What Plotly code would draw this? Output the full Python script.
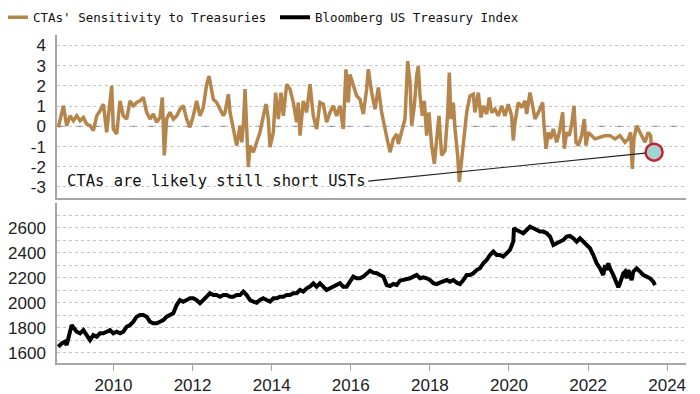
import pandas as pd
import plotly.graph_objects as go
from plotly.subplots import make_subplots

# ---- data (decimal years) ----
cta_t = [2008.605, 2008.732, 2008.816, 2008.900, 2008.985, 2009.069, 2009.153, 2009.237, 2009.322, 2009.406,
         2009.490, 2009.575, 2009.659, 2009.743, 2009.827, 2009.912, 2009.954, 2009.996, 2010.080, 2010.164,
         2010.249, 2010.333, 2010.417, 2010.502, 2010.586, 2010.670, 2010.754, 2010.839, 2010.923, 2011.007,
         2011.091, 2011.176, 2011.235, 2011.285, 2011.344, 2011.429, 2011.513, 2011.597, 2011.681, 2011.766,
         2011.850, 2011.934, 2012.019, 2012.103, 2012.187, 2012.271, 2012.356, 2012.415, 2012.482, 2012.524,
         2012.609, 2012.693, 2012.777, 2012.819, 2012.904, 2012.946, 2012.988, 2013.030, 2013.114, 2013.199,
         2013.241, 2013.283, 2013.325, 2013.367, 2013.409, 2013.451, 2013.536, 2013.620, 2013.704, 2013.789,
         2013.856, 2013.915, 2013.957, 2014.041, 2014.100, 2014.168, 2014.235, 2014.294, 2014.378, 2014.463,
         2014.547, 2014.631, 2014.673, 2014.716, 2014.800, 2014.884, 2014.968, 2015.053, 2015.137, 2015.221,
         2015.306, 2015.390, 2015.474, 2015.558, 2015.643, 2015.727, 2015.811, 2015.879, 2015.938, 2015.980,
         2016.064, 2016.148, 2016.233, 2016.317, 2016.401, 2016.443, 2016.528, 2016.612, 2016.696, 2016.780,
         2016.865, 2016.949, 2016.991, 2017.075, 2017.160, 2017.202, 2017.286, 2017.370, 2017.438, 2017.497,
         2017.539, 2017.606, 2017.665, 2017.707, 2017.750, 2017.809, 2017.859, 2017.918, 2017.977, 2018.045,
         2018.112, 2018.171, 2018.230, 2018.297, 2018.382, 2018.449, 2018.491, 2018.533, 2018.592, 2018.635,
         2018.702, 2018.744, 2018.803, 2018.862, 2018.930, 2019.014, 2019.098, 2019.140, 2019.225, 2019.292,
         2019.351, 2019.435, 2019.503, 2019.562, 2019.646, 2019.730, 2019.815, 2019.899, 2019.983, 2020.067,
         2020.110, 2020.152, 2020.236, 2020.320, 2020.404, 2020.447, 2020.531, 2020.598, 2020.657, 2020.742,
         2020.851, 2020.885, 2020.935, 2020.994, 2021.053, 2021.121, 2021.205, 2021.272, 2021.357, 2021.399,
         2021.458, 2021.525, 2021.584, 2021.643, 2021.694, 2021.753, 2021.837, 2021.905, 2021.947, 2022.006,
         2022.090, 2022.174, 2022.301, 2022.427, 2022.554, 2022.680, 2022.806, 2022.933, 2023.017, 2023.076,
         2023.118, 2023.160, 2023.228, 2023.312, 2023.380, 2023.439, 2023.523, 2023.582, 2023.607, 2023.670]
cta_v = [-0.05, 1.02, 0.03, 0.52, 0.28, 0.52, 0.28, 0.44, 0.11, 0.03,
         -0.21, 0.52, 0.77, 1.10, -0.30, 1.18, 2.00, -0.13, -0.38, 1.26,
         0.52, 0.36, 1.26, 1.02, 1.18, 1.26, 1.43, 0.69, 0.36, 0.61,
         0.20, 0.44, 1.43, -1.44, 0.36, 0.69, 0.36, 0.52, 0.85, 1.02,
         0.36, -0.05, 0.52, 1.26, 0.52, 0.93, 2.08, 2.49, 1.67, 1.34,
         1.18, 0.85, 0.52, 0.69, 1.59, 0.69, 0.36, -0.13, -0.95, 0.03,
         -0.79, 0.11, 1.84, -0.46, -2.02, -0.95, -1.28, -0.79, -0.30, 0.52,
         1.10, 0.36, -1.03, -0.30, 1.67, 0.36, 1.67, 0.52, 2.08, 1.84,
         1.18, 0.20, 1.18, -0.46, 1.26, 0.69, 2.08, 0.52, -0.13, 1.18,
         1.10, 0.20, 0.69, 1.02, 0.52, 1.02, -0.13, 2.82, 1.18, 2.57,
         2.00, 1.51, 1.34, 0.61, 1.84, 2.82, 1.67, 0.85, 1.92, 0.69,
         -0.13, -0.95, -1.28, -0.62, -0.38, -0.87, -0.30, 0.36, 3.23, 2.16,
         0.03, 1.02, 2.49, 2.98, 1.51, 0.52, 1.26, -0.46, 0.69, -0.95,
         -1.85, -0.62, 0.52, -1.44, -1.20, 0.61, 2.66, 0.36, 1.18, -0.13,
         -1.44, -2.75, -1.77, -0.46, 0.69, 1.51, 1.59, 0.69, 1.67, 0.44,
         1.02, 0.61, 1.43, 0.69, 0.85, 0.52, 1.02, 0.52, 1.10, 0.52,
         -0.70, 0.20, 1.18, 0.93, 1.26, 0.61, 1.67, 1.02, 0.36, 0.69,
         1.18, 0.03, -1.11, -0.30, -0.62, -0.13, -0.79, -0.30, 0.69, -1.11,
         -0.30, -0.46, 0.11, 1.02, -0.79, -0.95, -0.46, 0.36, -0.95, -0.30,
         -0.46, -0.62, -0.54, -0.46, -0.46, -0.62, -0.46, -0.79, -0.62, -0.30,
         -2.10, -0.62, 0.03, -0.30, -0.62, -0.79, -0.30, -0.46, -1.11, -1.28]

idx_t = [2008.605, 2008.689, 2008.773, 2008.815, 2008.858, 2008.942, 2009.001, 2009.068, 2009.153, 2009.237,
         2009.321, 2009.405, 2009.490, 2009.574, 2009.658, 2009.742, 2009.827, 2009.911, 2009.995, 2010.080,
         2010.164, 2010.248, 2010.332, 2010.417, 2010.501, 2010.585, 2010.670, 2010.754, 2010.838, 2010.922,
         2011.007, 2011.091, 2011.175, 2011.260, 2011.344, 2011.428, 2011.512, 2011.597, 2011.681, 2011.765,
         2011.849, 2011.934, 2012.018, 2012.102, 2012.187, 2012.271, 2012.355, 2012.439, 2012.524, 2012.608,
         2012.692, 2012.777, 2012.861, 2012.945, 2013.029, 2013.114, 2013.198, 2013.282, 2013.367, 2013.451,
         2013.535, 2013.619, 2013.704, 2013.788, 2013.872, 2013.957, 2014.041, 2014.125, 2014.209, 2014.294,
         2014.378, 2014.462, 2014.547, 2014.631, 2014.715, 2014.799, 2014.884, 2014.968, 2015.052, 2015.137,
         2015.221, 2015.305, 2015.389, 2015.474, 2015.558, 2015.642, 2015.727, 2015.811, 2015.895, 2015.979,
         2016.064, 2016.148, 2016.232, 2016.317, 2016.401, 2016.486, 2016.570, 2016.654, 2016.739, 2016.823,
         2016.907, 2016.991, 2017.076, 2017.160, 2017.244, 2017.328, 2017.413, 2017.497, 2017.581, 2017.666,
         2017.750, 2017.834, 2017.918, 2018.003, 2018.087, 2018.171, 2018.256, 2018.340, 2018.424, 2018.508,
         2018.593, 2018.677, 2018.761, 2018.846, 2018.930, 2019.014, 2019.098, 2019.183, 2019.267, 2019.351,
         2019.436, 2019.520, 2019.604, 2019.688, 2019.773, 2019.857, 2019.941, 2020.025, 2020.110, 2020.127,
         2020.194, 2020.278, 2020.363, 2020.447, 2020.531, 2020.615, 2020.700, 2020.784, 2020.868, 2020.953,
         2021.037, 2021.121, 2021.205, 2021.290, 2021.374, 2021.458, 2021.543, 2021.627, 2021.711, 2021.795,
         2021.880, 2021.964, 2022.048, 2022.133, 2022.217, 2022.301, 2022.385, 2022.428, 2022.470, 2022.512,
         2022.554, 2022.638, 2022.723, 2022.765, 2022.807, 2022.849, 2022.891, 2022.933, 2022.976, 2023.018,
         2023.060, 2023.102, 2023.144, 2023.228, 2023.313, 2023.397, 2023.481, 2023.566, 2023.650, 2023.692]
idx_v = [1648, 1675, 1688, 1661, 1715, 1821, 1795, 1768, 1755, 1781,
         1741, 1701, 1741, 1728, 1755, 1755, 1768, 1781, 1755, 1768,
         1755, 1768, 1808, 1821, 1848, 1888, 1901, 1901, 1888, 1848,
         1835, 1835, 1848, 1861, 1888, 1901, 1915, 1981, 2021, 2008,
         2021, 2035, 2035, 2021, 1995, 2021, 2048, 2075, 2061, 2061,
         2048, 2061, 2061, 2048, 2048, 2061, 2061, 2088, 2061, 2021,
         2008, 2000, 2021, 2035, 2021, 2008, 2035, 2035, 2048, 2048,
         2061, 2061, 2075, 2075, 2101, 2088, 2115, 2128, 2155, 2128,
         2155, 2128, 2101, 2115, 2128, 2141, 2155, 2128, 2128, 2168,
         2208, 2195, 2195, 2208, 2235, 2256, 2240, 2235, 2221, 2208,
         2141, 2133, 2149, 2141, 2176, 2181, 2187, 2195, 2208, 2221,
         2195, 2203, 2195, 2181, 2155, 2149, 2160, 2168, 2181, 2168,
         2181, 2160, 2149, 2181, 2221, 2221, 2235, 2261, 2275, 2315,
         2341, 2381, 2408, 2381, 2381, 2368, 2395, 2421, 2488, 2595,
         2581, 2568, 2555, 2581, 2608, 2595, 2581, 2568, 2568, 2555,
         2528, 2461, 2475, 2488, 2501, 2528, 2533, 2515, 2488, 2515,
         2488, 2461, 2435, 2381, 2315, 2275, 2221, 2301, 2261, 2315,
         2275, 2221, 2155, 2123, 2155, 2208, 2235, 2248, 2195, 2261,
         2208, 2181, 2248, 2275, 2248, 2221, 2208, 2195, 2168, 2141]

top_ticks = [-3, -2, -1, 0, 1, 2, 3, 4]
bottom_ticks = [1600, 1800, 2000, 2200, 2400, 2600]
x_tick_years = [2010, 2012, 2014, 2016, 2018, 2020, 2022, 2024]
cta_name = "CTAs' Sensitivity to Treasuries"
idx_name = "Bloomberg US Treasury Index"
note_text = "CTAs are likely still short USTs"


def to_date(y):
    yr = int(y)
    a = pd.Timestamp(yr, 1, 1)
    b = pd.Timestamp(yr + 1, 1, 1)
    return a + (b - a) * (y - yr)


cta_dates = [to_date(t) for t in cta_t]
idx_dates = [to_date(t) for t in idx_t]

TAN = "#b5854b"
GRID = "#c4c4c4"
AXIS = "#a6a6a6"
TICKFONT = dict(family="Liberation Sans", size=17, color="#222222")
MONO = "DejaVu Sans Mono"

fig = make_subplots(rows=2, cols=1, shared_xaxes=True, vertical_spacing=0.0)

fig.add_trace(go.Scatter(x=cta_dates, y=cta_v, mode="lines", name=cta_name,
                         line=dict(color=TAN, width=3.5)), row=1, col=1)
fig.add_trace(go.Scatter(x=idx_dates, y=idx_v, mode="lines", name=idx_name,
                         line=dict(color="#000000", width=4)), row=2, col=1)
# highlight circle at the latest reading
fig.add_trace(go.Scatter(x=[cta_dates[-1]], y=[cta_v[-1]], mode="markers", showlegend=False,
                         marker=dict(size=17, color="#9ed6d2",
                                     line=dict(color="#cc1f2b", width=2.5))), row=1, col=1)

x_range = [to_date(2008.571), to_date(2024.476)]

fig.update_xaxes(range=x_range, type="date", showgrid=False, showline=True,
                 linecolor=AXIS, linewidth=1.5, mirror=False, zeroline=False)
fig.update_xaxes(row=1, col=1, showticklabels=False, ticks="")
fig.update_xaxes(row=2, col=1, tickvals=[pd.Timestamp(y, 1, 1) for y in x_tick_years],
                 ticktext=[str(y) for y in x_tick_years], ticks="outside", ticklen=6,
                 tickcolor=AXIS, tickwidth=1.2, tickfont=TICKFONT)

fig.update_yaxes(row=1, col=1, range=[-3.53, 4.52], tickvals=top_ticks,
                 ticktext=[str(v) for v in top_ticks], showgrid=True, gridcolor=GRID,
                 griddash="dot", gridwidth=1, zeroline=False, showline=True,
                 linecolor=AXIS, linewidth=1.5, ticks="", ticklabelstandoff=6,
                 tickfont=TICKFONT, domain=[0.504, 1.0])
fig.update_yaxes(row=2, col=1, range=[1518, 2797], tickvals=bottom_ticks,
                 ticktext=[str(v) for v in bottom_ticks], showgrid=True, gridcolor=GRID,
                 griddash="dot", gridwidth=1, zeroline=False, showline=True,
                 linecolor=AXIS, linewidth=1.5, ticks="", ticklabelstandoff=6,
                 tickfont=TICKFONT, domain=[0.0, 0.488],
                 minor=dict(dtick=100, tick0=1600, showgrid=True, gridcolor=GRID,
                            griddash="dot", gridwidth=1, ticks=""))

# dashed zero line on the sensitivity panel
fig.add_shape(type="line", xref="x domain", yref="y", x0=0, x1=1, y0=0, y1=0,
              line=dict(color="#6f7f92", width=1, dash="dash"), layer="below")

# callout text with connector to the highlighted point
fig.add_annotation(xref="x", yref="y", axref="x", ayref="y",
                   x=cta_dates[-1], y=cta_v[-1],
                   ax=to_date(2016.44), ay=-2.71,
                   text=note_text, xanchor="right", yanchor="middle",
                   showarrow=True, arrowhead=0, arrowwidth=1.1, arrowcolor="#222222",
                   standoff=9, font=dict(family=MONO, size=15.5, color="#111111"))

# the page body adds an 8px offset, so the figure is 692x386 to fill the 700x394 window
fig.update_layout(
    width=692, height=386,
    margin=dict(l=49, r=14, t=27, b=31, autoexpand=False),
    paper_bgcolor="white", plot_bgcolor="white",
    showlegend=True,
    legend=dict(orientation="h", x=0, xref="container", xanchor="left",
                y=0.975, yref="container", yanchor="middle",
                font=dict(family=MONO, size=12.5, color="#111111"),
                bgcolor="rgba(0,0,0,0)", entrywidth=252, traceorder="normal",
                indentation=-15, tracegroupgap=0),
)

fig.write_html("out.html")
